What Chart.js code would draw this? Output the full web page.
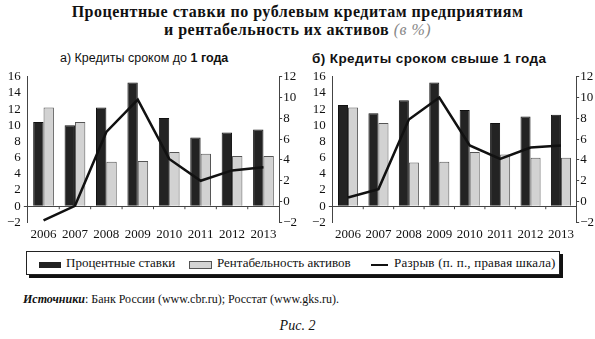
<!DOCTYPE html>
<html>
<head>
<meta charset="utf-8">
<script src="https://cdn.jsdelivr.net/npm/chart.js@4"></script>
<style>
  body { margin: 0; background: #fff; width: 595px; height: 339px; position: relative; overflow: hidden;
         font-family: "Liberation Serif", "DejaVu Serif", serif; color: #111; }
  .title { position: absolute; left: 0; width: 595px; top: 3px; text-align: center; font-weight: bold;
           font-size: 16px; line-height: 18px; letter-spacing: 0.5px; }
  .title i { color: #888; font-weight: normal; }
  .sub { position: absolute; top: 51px; font-family: "Liberation Sans", Arial, sans-serif; }
  .box { position: absolute; }
  .legend { position: absolute; left: 26px; top: 251px; width: 532px; height: 22px; border: 1px solid #222;
            box-shadow: 3px 3px 0 #111; font-size: 13px; }
  .legend span { position: absolute; top: 3px; white-space: nowrap; }
  .sw { position: absolute; top: 10px; height: 6px; }
  .src { position: absolute; left: 23px; top: 292px; font-size: 12px; }
  .fig { position: absolute; left: 0; width: 595px; text-align: center; top: 318px; font-size: 14px; font-style: italic; }
</style>
</head>
<body>
<div class="title">Процентные ставки по рублевым кредитам предприятиям<br>и рентабельность их активов <i>(в %)</i></div>
<div class="sub" style="left:60px;font-size:12.5px">а) Кредиты сроком до <b>1 года</b></div>
<div class="sub" style="left:312px;font-size:13.5px;letter-spacing:0.4px"><b>б) Кредиты сроком свыше 1 года</b></div>

<div class="box" style="left:0;top:66px;width:298px;height:180px"><canvas id="chartA"></canvas></div>
<div class="box" style="left:298px;top:66px;width:297px;height:180px"><canvas id="chartB"></canvas></div>

<div class="legend">
  <div class="sw" style="left:12px;width:22px;background:#222"></div>
  <span style="left:39px">Процентные ставки</span>
  <div class="sw" style="left:162px;width:21px;background:#d4d4d4;border:1px solid #555;top:9px"></div>
  <span style="left:190px">Рентабельность активов</span>
  <div class="sw" style="left:344px;width:17px;height:2px;top:12px;background:#111"></div>
  <span style="left:367px;letter-spacing:0.2px">Разрыв (п. п., правая шкала)</span>
</div>

<div class="src"><b><i>Источники</i></b>: Банк России (www.cbr.ru); Росстат (www.gks.ru).</div>
<div class="fig">Рис. 2</div>

<script>
const years = ['2006', '2007', '2008', '2009', '2010', '2011', '2012', '2013'];

// а) до 1 года
const ratesShort = [10.4, 10.0, 12.2, 15.3, 10.9, 8.5, 9.1, 9.5];
const roaShort = [12.2, 10.4, 5.5, 5.6, 6.7, 6.5, 6.2, 6.2];
const gapShort = [-1.8, -0.4, 6.7, 9.8, 4.1, 2.0, 3.0, 3.3];

// б) свыше 1 года
const ratesLong = [12.5, 11.5, 13.1, 15.3, 11.9, 10.3, 11.1, 11.3];
const roaLong = [12.2, 10.3, 5.4, 5.5, 6.7, 6.4, 6.0, 6.0];
const gapLong = [0.4, 1.2, 7.9, 10.0, 5.4, 4.1, 5.2, 5.4];

const leftTicks = [-2, 0, 2, 4, 6, 8, 10, 12, 14, 16];
const rightTicks = [-2, 0, 2, 4, 6, 8, 10, 12];

Chart.defaults.font.family = '"Liberation Serif", "DejaVu Serif", serif';
Chart.defaults.font.size = 13;
Chart.defaults.color = '#111';

const fmt = v => v < 0 ? '\u2212' + Math.abs(v) : String(v);

// small tick marks on the zero line between categories
const zeroTicks = {
    id: 'zeroTicks',
    afterDatasetsDraw(chart) {
        const x = chart.scales.x, y = chart.scales.y, ctx = chart.ctx;
        const y0 = y.getPixelForValue(0);
        ctx.save();
        ctx.strokeStyle = '#444';
        ctx.lineWidth = 1;
        for (let i = 1; i < years.length; i++) {
            const px = (x.getPixelForTick(i - 1) + x.getPixelForTick(i)) / 2;
            ctx.beginPath();
            ctx.moveTo(px, y0);
            ctx.lineTo(px, y0 + 3);
            ctx.stroke();
        }
        ctx.restore();
    }
};

function makeChart(id, rates, roa, gap, pad) {
    new Chart(document.getElementById(id), {
        type: 'bar',
        data: {
            labels: years,
            datasets: [
                {
                    type: 'line',
                    data: gap,
                    yAxisID: 'y1',
                    borderColor: '#111',
                    borderWidth: 2.5,
                    pointRadius: 0,
                    tension: 0,
                    order: 0
                },
                {
                    data: rates,
                    backgroundColor: '#232323',
                    borderColor: '#111',
                    borderWidth: 1,
                    order: 1
                },
                {
                    data: roa,
                    backgroundColor: '#d2d2d2',
                    borderColor: '#555',
                    borderWidth: 1,
                    order: 1
                }
            ]
        },
        options: {
            responsive: true,
            maintainAspectRatio: false,
            animation: false,
            layout: { padding: pad },
            plugins: { legend: { display: false }, tooltip: { enabled: false } },
            datasets: { bar: { categoryPercentage: 0.66, barPercentage: 1.0 } },
            scales: {
                x: {
                    grid: { display: false },
                    border: { display: false },
                    ticks: { padding: -4, maxRotation: 0, autoSkip: false }
                },
                y: {
                    min: -2, max: 16,
                    afterBuildTicks: s => { s.ticks = leftTicks.map(v => ({ value: v })); },
                    ticks: { callback: fmt, padding: 3, autoSkip: false },
                    border: { display: true, color: '#444' },
                    grid: {
                        drawOnChartArea: true,
                        tickLength: 4,
                        color: ctx => ctx.tick && ctx.tick.value === 0 ? '#444' : 'rgba(0,0,0,0)'
                    }
                },
                y1: {
                    position: 'right',
                    min: -2, max: 12,
                    afterBuildTicks: s => { s.ticks = rightTicks.map(v => ({ value: v })); },
                    ticks: { callback: fmt, padding: 1, autoSkip: false },
                    border: { display: true, color: '#444' },
                    grid: { drawOnChartArea: false, tickLength: 3, color: '#444' }
                }
            }
        },
        plugins: [zeroTicks]
    });
}

makeChart('chartA', ratesShort, roaShort, gapShort, { left: 4, right: 0, top: 4, bottom: 8 });
makeChart('chartB', ratesLong, roaLong, gapLong, { left: 11, right: 0, top: 4, bottom: 8 });
</script>
</body>
</html>
